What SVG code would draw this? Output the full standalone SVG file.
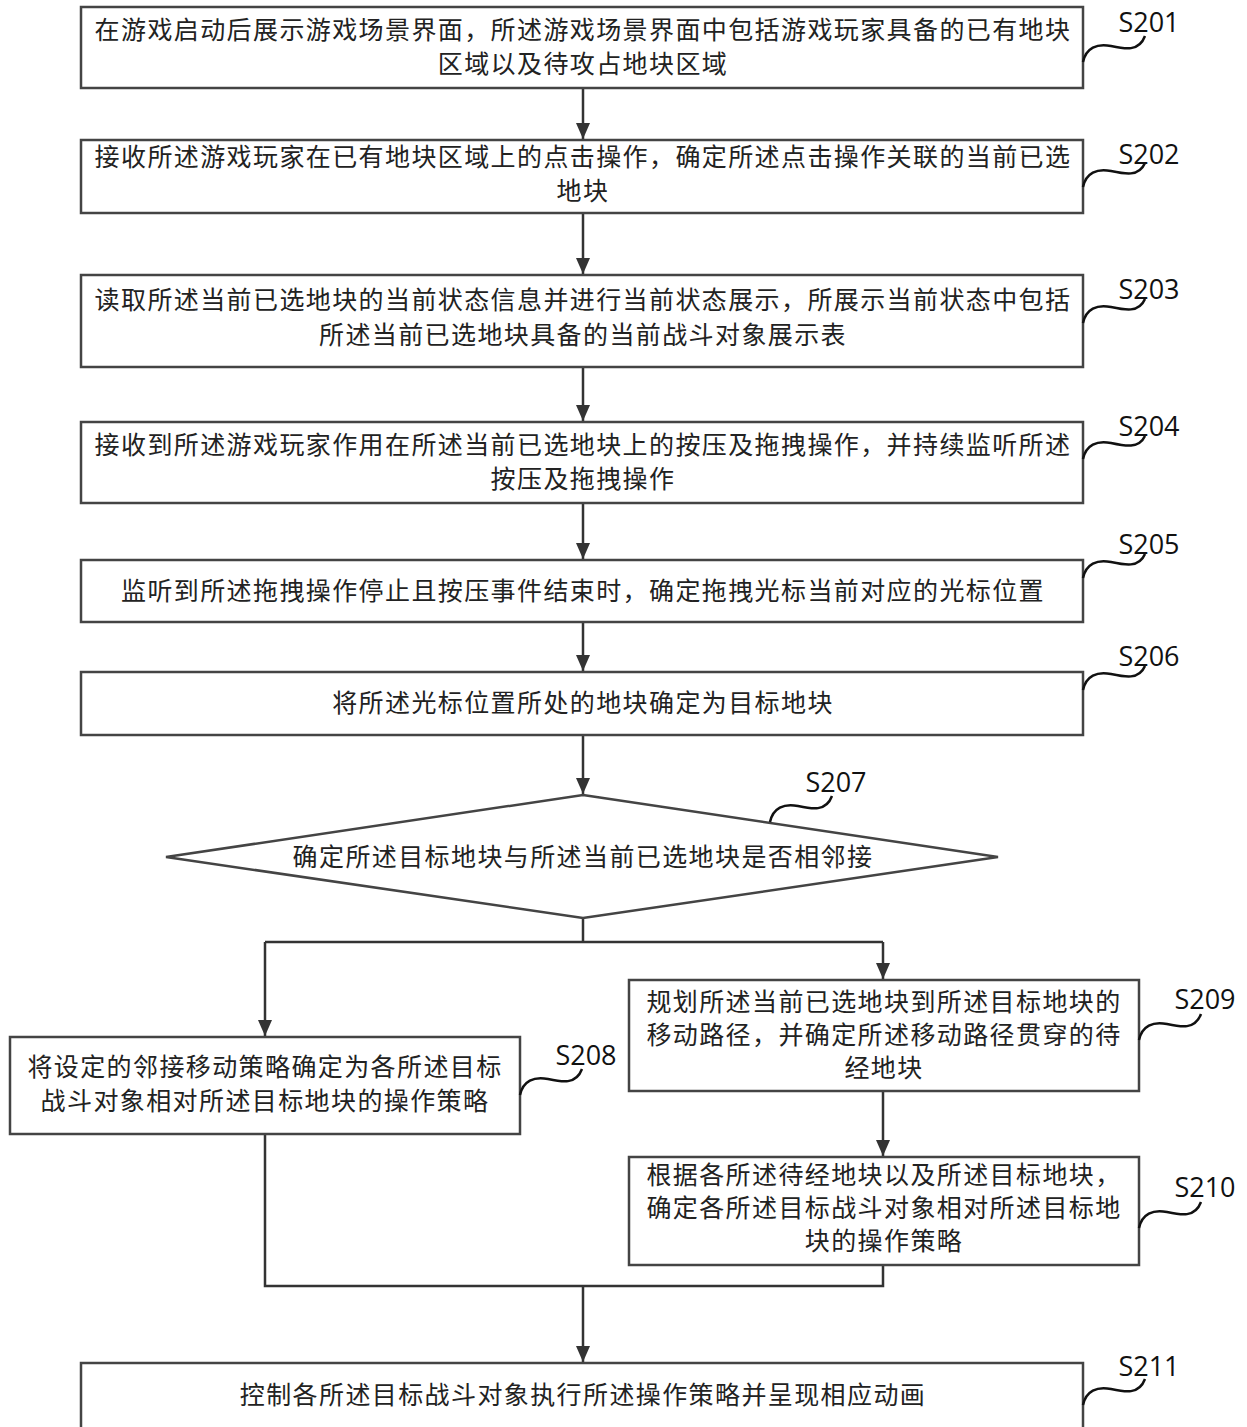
<svg xmlns="http://www.w3.org/2000/svg" width="1247" height="1427" viewBox="0 0 1247 1427">
<defs>
<marker id="ah" markerWidth="16" markerHeight="14" refX="16" refY="7" orient="auto" markerUnits="userSpaceOnUse" viewBox="0 0 16 14">
<path d="M0,0 L16,7 L0,14 Z" fill="#333"/>
</marker>
<style>
.box{fill:#fff;stroke:#444;stroke-width:2.5}
.t{font-family:"Noto Sans CJK SC","Noto Sans",sans-serif;font-size:25px;letter-spacing:1.4px;fill:#222;text-anchor:middle}
.lbl{font-family:"Open Sans","Noto Sans",sans-serif;font-size:27px;fill:#111;text-anchor:middle}
.sq{fill:none;stroke:#111;stroke-width:2.5}
.c{fill:none;stroke:#333;stroke-width:2.5}
.ca{fill:none;stroke:#333;stroke-width:2.5;marker-end:url(#ah)}
</style>
</defs>
<rect width="1247" height="1427" fill="#fff"/>
<g id="connectors">
<line class="ca" x1="583" y1="88" x2="583" y2="139"/>
<line class="ca" x1="583" y1="213" x2="583" y2="274"/>
<line class="ca" x1="583" y1="367" x2="583" y2="421"/>
<line class="ca" x1="583" y1="503" x2="583" y2="559"/>
<line class="ca" x1="583" y1="622" x2="583" y2="671"/>
<line class="ca" x1="583" y1="735" x2="583" y2="794"/>
<polyline class="c" points="583,918 583,942"/>
<polyline class="ca" points="265,942 265,1036"/>
<polyline class="c" points="265,942 883,942"/>
<polyline class="ca" points="883,942 883,979"/>
<line class="ca" x1="883" y1="1091" x2="883" y2="1156"/>
<polyline class="c" points="265,1134 265,1286 883,1286 883,1265"/>
<line class="ca" x1="583" y1="1286" x2="583" y2="1362"/>
</g>
<g id="S201">
<rect class="box" x="81" y="7" width="1002" height="81"/>
<text class="t" x="583" y="39">在游戏启动后展示游戏场景界面，所述游戏场景界面中包括游戏玩家具备的已有地块</text>
<text class="t" x="583" y="73">区域以及待攻占地块区域</text>
<path class="sq" d="M1083,62 C1086,48 1097,43 1111,46 C1125,49 1139,52 1145,36"/>
<text class="lbl" x="1149" y="32">S201</text>
</g>
<g id="S202">
<rect class="box" x="81" y="140" width="1002" height="73"/>
<text class="t" x="583" y="166">接收所述游戏玩家在已有地块区域上的点击操作，确定所述点击操作关联的当前已选</text>
<text class="t" x="583" y="200">地块</text>
<path class="sq" d="M1083,187 C1086,173 1097,168 1111,171 C1125,174 1139,177 1145,163"/>
<text class="lbl" x="1149" y="164">S202</text>
</g>
<g id="S203">
<rect class="box" x="81" y="275" width="1002" height="92"/>
<text class="t" x="583" y="309">读取所述当前已选地块的当前状态信息并进行当前状态展示，所展示当前状态中包括</text>
<text class="t" x="583" y="344">所述当前已选地块具备的当前战斗对象展示表</text>
<path class="sq" d="M1083,323 C1086,309 1097,304 1111,307 C1125,310 1139,313 1145,299"/>
<text class="lbl" x="1149" y="299">S203</text>
</g>
<g id="S204">
<rect class="box" x="81" y="422" width="1002" height="81"/>
<text class="t" x="583" y="454">接收到所述游戏玩家作用在所述当前已选地块上的按压及拖拽操作，并持续监听所述</text>
<text class="t" x="583" y="488">按压及拖拽操作</text>
<path class="sq" d="M1083,459 C1086,445 1097,440 1111,443 C1125,446 1139,449 1145,436"/>
<text class="lbl" x="1149" y="436">S204</text>
</g>
<g id="S205">
<rect class="box" x="81" y="560" width="1002" height="62"/>
<text class="t" x="583" y="600">监听到所述拖拽操作停止且按压事件结束时，确定拖拽光标当前对应的光标位置</text>
<path class="sq" d="M1083,578 C1086,564 1097,559 1111,562 C1125,565 1139,568 1145,554"/>
<text class="lbl" x="1149" y="554">S205</text>
</g>
<g id="S206">
<rect class="box" x="81" y="672" width="1002" height="63"/>
<text class="t" x="583" y="712">将所述光标位置所处的地块确定为目标地块</text>
<path class="sq" d="M1083,690 C1086,676 1097,671 1111,674 C1125,677 1139,680 1145,666"/>
<text class="lbl" x="1149" y="666">S206</text>
</g>
<g id="S207">
<polygon class="box" points="583,795 998,857 583,918 166,857"/>
<text class="t" x="583" y="866">确定所述目标地块与所述当前已选地块是否相邻接</text>
<path class="sq" d="M770,822 C773,808 784,803 798,806 C812,809 826,812 832,796"/>
<text class="lbl" x="836" y="792">S207</text>
</g>
<g id="S208">
<rect class="box" x="10" y="1037" width="510" height="97"/>
<text class="t" x="265" y="1076">将设定的邻接移动策略确定为各所述目标</text>
<text class="t" x="265" y="1110">战斗对象相对所述目标地块的操作策略</text>
<path class="sq" d="M520,1095 C523,1081 534,1076 548,1079 C562,1082 576,1085 582,1069"/>
<text class="lbl" x="586" y="1065">S208</text>
</g>
<g id="S209">
<rect class="box" x="629" y="980" width="510" height="111"/>
<text class="t" x="884" y="1011">规划所述当前已选地块到所述目标地块的</text>
<text class="t" x="884" y="1044">移动路径，并确定所述移动路径贯穿的待</text>
<text class="t" x="884" y="1077">经地块</text>
<path class="sq" d="M1139,1040 C1142,1026 1153,1021 1167,1024 C1181,1027 1195,1030 1201,1014"/>
<text class="lbl" x="1205" y="1009">S209</text>
</g>
<g id="S210">
<rect class="box" x="629" y="1157" width="510" height="108"/>
<text class="t" x="884" y="1184">根据各所述待经地块以及所述目标地块，</text>
<text class="t" x="884" y="1217">确定各所述目标战斗对象相对所述目标地</text>
<text class="t" x="884" y="1250">块的操作策略</text>
<path class="sq" d="M1139,1228 C1142,1214 1153,1209 1167,1212 C1181,1215 1195,1218 1201,1202"/>
<text class="lbl" x="1205" y="1197">S210</text>
</g>
<g id="S211">
<rect class="box" x="81" y="1363" width="1002" height="80"/>
<text class="t" x="583" y="1404">控制各所述目标战斗对象执行所述操作策略并呈现相应动画</text>
<path class="sq" d="M1083,1405 C1086,1391 1097,1386 1111,1389 C1125,1392 1139,1395 1145,1379"/>
<text class="lbl" x="1149" y="1376">S211</text>
</g>
</svg>
